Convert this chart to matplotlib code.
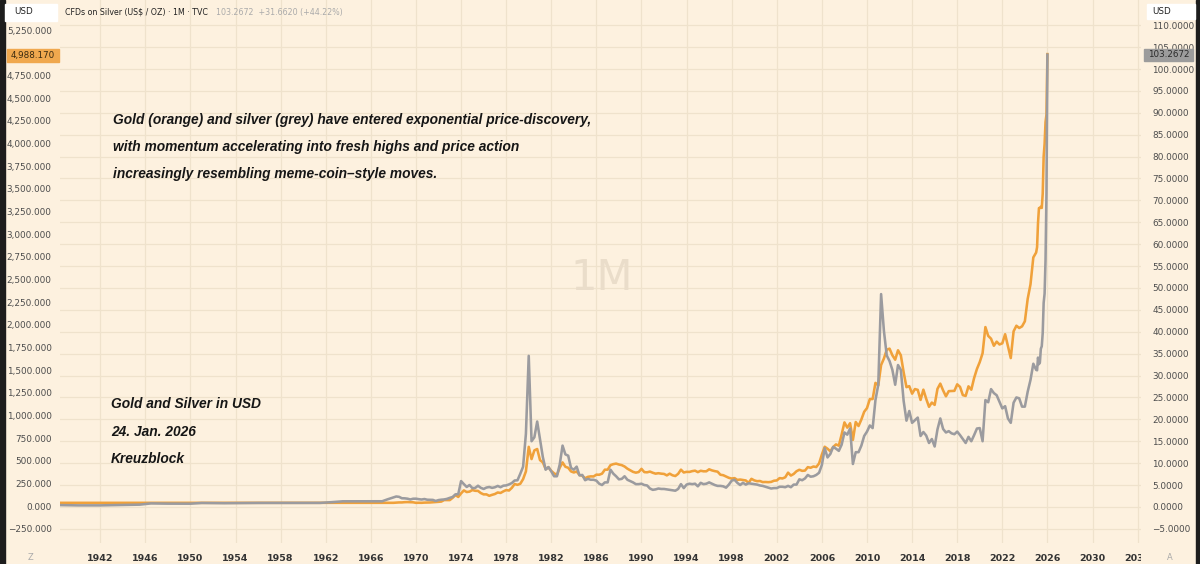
import matplotlib
matplotlib.use("Agg")
import matplotlib.pyplot as plt
from matplotlib.patches import Rectangle
from matplotlib.ticker import FuncFormatter
from matplotlib.transforms import blended_transform_factory, Bbox, TransformedBbox

# ---- data (gold USD/oz on left axis, silver USD/oz on right axis) ----
early_t = [1938.0, 1940.0, 1942.0, 1944.0, 1945.5, 1946.5, 1948.0, 1950.0, 1951.0,
           1953.0, 1956.0, 1960.0, 1961.5, 1962.5, 1963.5, 1965.0, 1967.0, 1967.5]
early_gold = [35.0, 35.0, 35.0, 35.0, 35.0, 35.0, 35.0, 35.0, 35.0,
              35.0, 35.0, 35.1, 35.1, 35.1, 35.1, 35.1, 35.2, 35.2]
early_silver = [0.43, 0.35, 0.35, 0.45, 0.52, 0.80, 0.75, 0.74, 0.90,
                0.85, 0.91, 0.91, 0.92, 1.08, 1.28, 1.29, 1.29, 1.75]

# quarterly closes (Jan, Apr, Jul, Oct), 1968 - 2024
q_years = list(range(1968, 2025))
gold_q = [
    35.2, 37.7, 39.5, 39.4,   42.4, 43.3, 42.0, 40.8,   34.9, 35.9, 35.3, 37.5,   # 68-70
    37.9, 39.0, 41.0, 42.5,   46.1, 49.0, 65.7, 64.9,   65.1, 90.5, 120.0, 100.1, # 71-73
    139.3, 172.2, 154.1, 158.8,   176.0, 168.0, 166.7, 142.9,   128.2, 128.4, 112.5, 123.2,
    132.3, 149.2, 144.1, 161.5,   175.8, 170.9, 200.3, 242.6,   233.7, 245.3, 296.5, 382.0,
    653.0, 518.0, 614.3, 629.0,   506.5, 482.0, 409.0, 427.0,   387.0, 361.0, 342.0, 423.0,
    481.0, 433.0, 422.0, 382.0,   370.0, 381.0, 342.0, 334.0,   306.0, 322.0, 327.0, 326.0,
    346.0, 345.0, 357.0, 401.0,   401.0, 451.0, 462.0, 468.0,   458.0, 451.0, 436.0, 412.0,
    394.0, 377.0, 368.0, 375.0,   410.0, 374.0, 372.0, 380.0,   367.0, 357.0, 362.0, 357.0,
    354.0, 338.0, 357.0, 339.0,   331.0, 355.0, 401.0, 370.0,   377.0, 376.0, 385.0, 390.0,
    374.0, 389.0, 383.0, 383.0,   405.0, 393.0, 385.0, 379.0,   345.0, 340.0, 326.0, 311.0,
    303.0, 308.0, 288.0, 292.0,   287.0, 282.0, 255.0, 300.0,   283.0, 274.0, 276.0, 264.0,
    265.0, 263.0, 266.0, 279.0,   282.0, 308.0, 304.0, 317.0,   368.0, 336.0, 354.0, 384.0,
    400.0, 388.0, 391.0, 429.0,   422.0, 436.0, 430.0, 470.0,   569.0, 654.0, 632.0, 604.0,
    651.0, 680.0, 666.0, 789.0,   923.0, 865.0, 914.0, 730.0,   927.0, 883.0, 955.0, 1040.0,
    1081.0, 1180.0, 1181.0, 1359.0,   1332.0, 1556.0, 1628.0, 1725.0,   1737.0, 1664.0, 1615.0, 1719.0,
    1664.0, 1476.0, 1312.0, 1323.0,   1240.0, 1291.0, 1282.0, 1171.0,   1284.0, 1183.0, 1095.0, 1142.0,
    1116.0, 1293.0, 1351.0, 1276.0,   1211.0, 1268.0, 1269.0, 1271.0,   1343.0, 1315.0, 1224.0, 1215.0,
    1321.0, 1284.0, 1413.0, 1513.0,   1589.0, 1686.0, 1975.0, 1878.0,   1847.0, 1769.0, 1814.0, 1783.0,
    1796.0, 1896.0, 1765.0, 1633.0,   1928.0, 1990.0, 1965.0, 1983.0,   2039.0, 2286.0, 2447.0, 2744.0,
]
silver_q = [
    2.17, 2.38, 2.30, 1.98,   1.96, 1.88, 1.70, 1.87,   1.88, 1.77, 1.69, 1.80,   # 68-70
    1.64, 1.62, 1.60, 1.36,   1.56, 1.65, 1.70, 1.84,   2.07, 2.27, 2.87, 2.91,   # 71-73
    5.90, 5.20, 4.56, 5.00,   4.30, 4.33, 4.84, 4.36,   4.10, 4.42, 4.55, 4.35,
    4.49, 4.79, 4.50, 4.85,   4.91, 5.14, 5.45, 6.03,   6.08, 7.56, 9.18, 16.70,
    34.50, 15.00, 15.90, 19.50,   15.50, 11.40, 8.50, 9.10,   8.10, 7.00, 7.00, 9.70,
    14.00, 12.00, 11.70, 8.90,   8.50, 9.20, 7.20, 7.30,   6.10, 6.40, 6.20, 6.20,
    6.00, 5.30, 5.00, 5.60,   5.60, 8.50, 7.60, 7.00,   6.30, 6.40, 7.00, 6.20,
    5.90, 5.60, 5.20, 5.20,   5.30, 5.00, 4.90, 4.20,   3.90, 4.00, 4.20, 4.10,
    4.10, 4.00, 3.90, 3.80,   3.70, 4.10, 5.20, 4.30,   5.10, 5.30, 5.20, 5.30,
    4.70, 5.50, 5.20, 5.30,   5.60, 5.30, 5.00, 4.80,   4.80, 4.70, 4.40, 5.10,
    6.00, 6.20, 5.50, 5.00,   5.50, 5.10, 5.40, 5.30,   5.20, 5.10, 4.90, 4.80,
    4.60, 4.40, 4.20, 4.30,   4.30, 4.60, 4.60, 4.50,   4.80, 4.50, 5.10, 5.10,
    6.30, 6.10, 6.50, 7.30,   6.90, 7.00, 7.30, 7.80,   9.60, 13.40, 11.30, 12.10,
    13.70, 13.30, 12.80, 14.20,   17.00, 16.50, 17.90, 9.80,   12.50, 12.50, 14.00, 16.20,
    17.20, 18.60, 18.00, 24.40,   27.90, 48.60, 40.20, 34.60,   33.30, 31.30, 27.90, 32.40,
    31.30, 24.20, 19.70, 21.90,   19.20, 19.80, 20.40, 16.20,   17.10, 16.30, 14.60, 15.50,
    13.80, 17.70, 20.20, 17.80,   17.00, 17.30, 16.80, 16.60,   17.20, 16.40, 15.50, 14.60,
    16.00, 15.00, 16.40, 17.90,   18.00, 15.00, 24.40, 23.90,   26.90, 26.00, 25.50, 24.00,
    22.50, 23.00, 20.20, 19.20,   23.80, 25.00, 24.80, 22.90,   22.90, 26.30, 29.00, 32.70,
]

# monthly closes Jan 2025 - Jan 2026
gold_m = [2798, 2857, 3124, 3289, 3289, 3303, 3290, 3448, 3858, 3996, 4239, 4320, 4988.17]
silver_m = [31.3, 31.2, 34.1, 32.6, 33.0, 36.1, 36.7, 39.7, 46.6, 48.7, 56.4, 71.61, 103.2672]

year_ticks = list(range(1942, 2035, 4))
gold_ticks = [v for v in range(-250, 5251, 250) if v != 5000]  # 5,000 sits under the price tag
silver_ticks = list(range(-5, 111, 5))

BG = "#fdf1df"
GRID = "#efe2cc"
ORANGE = "#f0a13a"
GREY = "#9b9b9f"
W, H = 1200, 564

t = early_t + [y + q / 4 for y in q_years for q in range(4)] + [2025 + m / 12 for m in range(13)]
gold = early_gold + gold_q + gold_m
silver = early_silver + silver_q + silver_m

fig = plt.figure(figsize=(12, 5.64), dpi=100, facecolor=BG)

def px(x, y):
    return x / W, 1 - y / H

# dark frame edges
fig.patches.append(Rectangle((0, 0), 5 / W, 1, transform=fig.transFigure, color="#1d1d1d", zorder=0))
fig.patches.append(Rectangle((1196 / W, 0), 4 / W, 1, transform=fig.transFigure, color="#1d1d1d", zorder=0))

ax = fig.add_axes([60 / W, (H - 543) / H, (1141 - 60) / W, 543 / H])
ax.set_facecolor(BG)
ax2 = ax.twinx()

ax.set_xlim(1938.43, 2034.3)
ax.set_ylim(-408.4, 5585.6)
ax2.set_ylim(-8.24, 115.76)

# grid: verticals on years, horizontals on the silver scale
ax.set_xticks(year_ticks)
ax.grid(axis="x", color=GRID, lw=0.9, zorder=0)
hz = blended_transform_factory(ax.transAxes, ax2.transData)
for s in silver_ticks:
    ax.plot([0, 1], [s, s], transform=hz, color=GRID, lw=0.9, zorder=0.5)

ax.plot(t, gold, color=ORANGE, lw=1.85, solid_joinstyle="round", zorder=2)
ax2.plot(t, silver, color=GREY, lw=1.85, solid_joinstyle="round", zorder=2)

for a in (ax, ax2):
    for sp in a.spines.values():
        sp.set_visible(False)

ax.set_yticks(gold_ticks)
ax.yaxis.set_major_formatter(FuncFormatter(lambda v, p: f"{v:,.3f}".replace("-", "\u2212")))
ax.tick_params(axis="y", length=0, pad=6, labelsize=6.4, labelcolor="#4d4d4d")
ax2.set_yticks(silver_ticks)
ax2.yaxis.set_major_formatter(FuncFormatter(lambda v, p: f"{v:.4f}".replace("-", "\u2212")))
ax2.tick_params(axis="y", length=0, pad=8, labelsize=6.4, labelcolor="#4d4d4d")
ax.tick_params(axis="x", length=0, pad=8, labelsize=6.8, labelcolor="#333333")
for lbl in ax.get_xticklabels():
    lbl.set_fontweight("bold")
    lbl.set_clip_box(TransformedBbox(Bbox([[0, -0.2], [1, 1]]), ax.transAxes))
    lbl.set_clip_on(True)

# watermark
fig.text(*px(602, 278), "1M", fontsize=30, color="#eaddca", ha="center", va="center")

# annotations
note = dict(fontsize=9.9, fontweight="bold", fontstyle="italic", color="#161616",
            family="Liberation Sans", va="center", ha="left")
fig.text(*px(113, 120), "Gold (orange) and silver (grey) have entered exponential price-discovery,", **note)
fig.text(*px(113, 147), "with momentum accelerating into fresh highs and price action", **note)
fig.text(*px(113, 174), "increasingly resembling meme-coin\u2013style moves.", **note)
fig.text(*px(111, 404), "Gold and Silver in USD", **note)
fig.text(*px(111, 432), "24. Jan. 2026", **note)
fig.text(*px(111, 459), "Kreuzblock", **note)

# header
fig.text(*px(65, 12), "CFDs on Silver (US$ / OZ) \u00b7 1M \u00b7 TVC", fontsize=5.7, color="#222222", va="center")
fig.text(*px(216, 12), "103.2672  +31.6620 (+44.22%)", fontsize=5.7, color="#aaaaaa", va="center")

# unit boxes
fig.patches.append(Rectangle(px(5, 21), 52 / W, 17 / H, transform=fig.transFigure, color="white", zorder=5))
fig.text(*px(14, 12), "USD", fontsize=6.3, color="#222222", va="center", zorder=6)
fig.patches.append(Rectangle(px(1147, 19), 48 / W, 15 / H, transform=fig.transFigure, color="white", zorder=5))
fig.text(*px(1152, 11), "USD", fontsize=6.3, color="#222222", va="center", zorder=6)

# last price tags
fig.patches.append(Rectangle(px(7, 62), 52 / W, 13 / H, transform=fig.transFigure, color="#f0a84e", zorder=5))
fig.text(*px(11, 55.5), "4,988.170", fontsize=6.3, color="#3a2a10", va="center", zorder=6)
fig.patches.append(Rectangle(px(1144, 61), 49 / W, 12 / H, transform=fig.transFigure, color="#9c9c9c", zorder=5))
fig.text(*px(1148, 55), "103.2672", fontsize=6.3, color="#2a2a2a", va="center", zorder=6)

# bottom corner icons
fig.text(*px(31, 557), "Z", fontsize=6, color="#aaaaaa", ha="center", va="center")
fig.text(*px(1170, 557), "A", fontsize=6, color="#aaaaaa", ha="center", va="center")

fig.savefig("out.png", dpi=100, facecolor=BG)
